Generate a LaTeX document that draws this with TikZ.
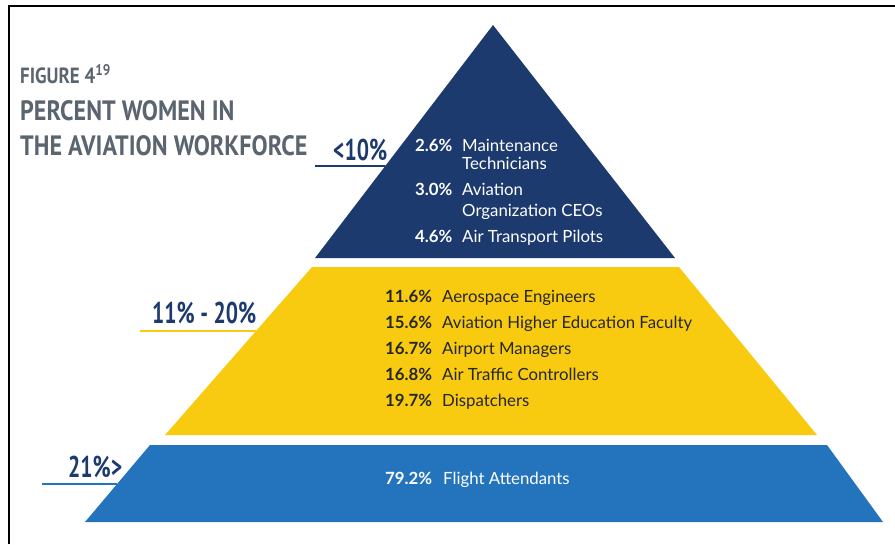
\documentclass[tikz,border=0pt]{standalone}
\usepackage{fontspec}
\setmainfont{Lato}
\newfontfamily\headfont[FakeStretch=0.86]{PT Sans}
\newfontfamily\tierfont[FakeStretch=0.72]{PT Sans}
\usetikzlibrary{positioning, calc}

\definecolor{navy}{HTML}{1C3A6E}
\definecolor{gold}{HTML}{F9CB10}
\definecolor{midblue}{HTML}{2474BD}
\definecolor{slate}{HTML}{5B6570}
\definecolor{ink}{HTML}{262626}

\tikzset{
  pct/.style={inner sep=0pt, anchor=base west, font=\fontsize{16.8}{18}\selectfont\bfseries},
  job/.style={inner sep=0pt, anchor=base west, font=\fontsize{16.8}{18}\selectfont},
  heading/.style={inner sep=0pt, anchor=base west, text=slate, font=\headfont\bfseries\fontsize{28}{30}\selectfont},
  tier/.style={inner sep=0pt, anchor=base west, text=navy, font=\tierfont\bfseries\fontsize{30}{32}\selectfont},
  rule/.style={line width=1.8pt}
}

\begin{document}
\begin{tikzpicture}[x=1pt, y=-1pt]
\useasboundingbox (0,0) rectangle (895,544);
\draw[line width=2.5pt] (9,544) -- (9,6) -- (895,6);

\coordinate (apex) at (493,25);
\coordinate (n1) at (315,258);
\coordinate (n2) at (675,258);
\coordinate (g1) at (312,267);
\coordinate (g2) at (679,267);
\coordinate (g3) at (817,435);
\coordinate (g4) at (165,435);
\coordinate (b1) at (150,445);
\coordinate (b2) at (827,445);
\coordinate (b3) at (883,522);
\coordinate (b4) at (85,522);

\fill[navy] (apex) -- (n2) -- (n1) -- cycle;
\fill[gold] (g1) -- (g2) -- (g3) -- (g4) -- cycle;
\fill[midblue] (b1) -- (b2) -- (b3) -- (b4) -- cycle;

% title
\node[heading, font=\headfont\bfseries\fontsize{22}{24}\selectfont] (fig) at (20,83) {FIGURE 4\textsuperscript{19}};
\node[heading] (t1) at (20,120) {PERCENT WOMEN IN};
\node[heading] (t2) at (20,155) {THE AVIATION WORKFORCE};

% tier labels
\node[tier] (low) at (333,160) {<10\%};
\node[tier] (mid) at (152,323) {11\% - 20\%};
\node[tier] (high) at (68,477) {21\%>};

\coordinate (l0) at (315,166);
\coordinate (m0) at (140,331);
\coordinate (h0) at (42,484);
\draw[rule, navy] (l0) -- ($(apex)!0.605!(n1)$);
\draw[rule, gold] (m0) -- ($(g1)!0.381!(g4)$);
\draw[rule, midblue] (h0) -- ($(b1)!0.506!(b4)$);

% top tier
\begin{scope}[text=white]
\node[pct] (p1) at (415,151) {2.6\%};
\node[job] (j1) at (462,151) {Maintenance};
\node[job] (j1b) at (462,169) {Technicians};
\node[pct] (p2) at (415,195) {3.0\%};
\node[job] (j2) at (462,195) {Aviation};
\node[job] (j2b) at (462,216) {Organization CEOs};
\node[pct] (p3) at (415,242) {4.6\%};
\node[job] (j3) at (462,242) {Air Transport Pilots};
\end{scope}

% middle tier
\begin{scope}[text=ink]
\node[pct] (p4) at (385,302) {11.6\%};
\node[job] (j4) at (442,302) {Aerospace Engineers};
\node[pct] (p5) at (385,328) {15.6\%};
\node[job] (j5) at (442,328) {Aviation Higher Education Faculty};
\node[pct] (p6) at (385,354) {16.7\%};
\node[job] (j6) at (442,354) {Airport Managers};
\node[pct] (p7) at (385,380) {16.8\%};
\node[job] (j7) at (442,380) {Air Traffic Controllers};
\node[pct] (p8) at (385,406) {19.7\%};
\node[job] (j8) at (442,406) {Dispatchers};
\end{scope}

% bottom tier
\node[pct, text=white] (p9) at (385,484) {79.2\%};
\node[job, text=white] (j9) at (443,484) {Flight Attendants};
\end{tikzpicture}
\end{document}
